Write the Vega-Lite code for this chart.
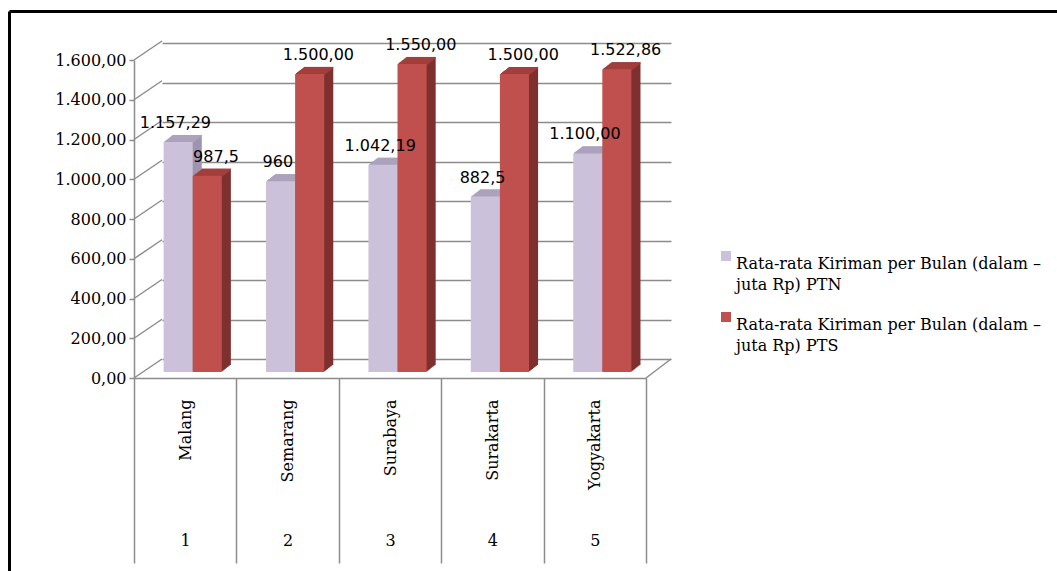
{
  "$schema": "https://vega.github.io/schema/vega-lite/v6.json",
  "width": 1048,
  "height": 560,
  "autosize": "none",
  "padding": {"left": 9, "top": 11, "right": 0, "bottom": 0},
  "background": "#ffffff",
  "config": {
    "view": {"stroke": null},
    "locale": {"number": {"decimal": ",", "thousands": ".", "grouping": [3], "currency": ["Rp", ""]}},
    "style": {"guide-label": {"lineHeight": 21}}
  },
  "data": {
    "values": [
      {"kota": "Malang", "no": 1, "seri": "Rata-rata Kiriman per Bulan (dalam – juta Rp) PTN", "nilai": 1157.29, "label": "1.157,29"},
      {"kota": "Malang", "no": 1, "seri": "Rata-rata Kiriman per Bulan (dalam – juta Rp) PTS", "nilai": 987.5, "label": "987,5"},
      {"kota": "Semarang", "no": 2, "seri": "Rata-rata Kiriman per Bulan (dalam – juta Rp) PTN", "nilai": 960, "label": "960"},
      {"kota": "Semarang", "no": 2, "seri": "Rata-rata Kiriman per Bulan (dalam – juta Rp) PTS", "nilai": 1500, "label": "1.500,00"},
      {"kota": "Surabaya", "no": 3, "seri": "Rata-rata Kiriman per Bulan (dalam – juta Rp) PTN", "nilai": 1042.19, "label": "1.042,19"},
      {"kota": "Surabaya", "no": 3, "seri": "Rata-rata Kiriman per Bulan (dalam – juta Rp) PTS", "nilai": 1550, "label": "1.550,00"},
      {"kota": "Surakarta", "no": 4, "seri": "Rata-rata Kiriman per Bulan (dalam – juta Rp) PTN", "nilai": 882.5, "label": "882,5"},
      {"kota": "Surakarta", "no": 4, "seri": "Rata-rata Kiriman per Bulan (dalam – juta Rp) PTS", "nilai": 1500, "label": "1.500,00"},
      {"kota": "Yogyakarta", "no": 5, "seri": "Rata-rata Kiriman per Bulan (dalam – juta Rp) PTN", "nilai": 1100, "label": "1.100,00"},
      {"kota": "Yogyakarta", "no": 5, "seri": "Rata-rata Kiriman per Bulan (dalam – juta Rp) PTS", "nilai": 1522.86, "label": "1.522,86"}
    ]
  },
  "resolve": {"scale": {"x": "independent", "y": "independent"}, "axis": {"x": "independent", "y": "independent"}},
  "layer": [
    {
      "description": "outer frame: top and left edges",
      "mark": {"type": "point", "opacity": 0},
      "encoding": {
        "x": {"datum": 0, "type": "quantitative", "scale": {"domain": [0, 1]},
              "axis": {"orient": "top", "domainColor": "#000000", "domainWidth": 3, "ticks": false, "labels": false, "grid": false, "title": null}},
        "y": {"datum": 0, "type": "quantitative", "scale": {"domain": [0, 1]},
              "axis": {"orient": "left", "domainColor": "#000000", "domainWidth": 3, "ticks": false, "labels": false, "grid": false, "title": null}}
      }
    },
    {
      "description": "back wall gridlines",
      "mark": {"type": "point", "opacity": 0},
      "encoding": {
        "x": {"field": "kota", "type": "nominal", "sort": null, "scale": {"range": [153, 662]}, "axis": null},
        "y": {"field": "nilai", "type": "quantitative", "scale": {"domain": [0, 1600], "range": [348, 32], "nice": false, "zero": true},
              "axis": {"orient": "left", "offset": -153, "values": [0, 200, 400, 600, 800, 1000, 1200, 1400, 1600],
                       "grid": true, "gridColor": "#8c8c8c", "gridWidth": 1.5, "domain": false, "ticks": false, "labels": false, "title": null}}
      }
    },
    {
      "description": "side wall edges joining the front ticks to the back gridlines",
      "data": {"values": [{"v": 0}, {"v": 200}, {"v": 400}, {"v": 600}, {"v": 800}, {"v": 1000}, {"v": 1200}, {"v": 1400}, {"v": 1600}]},
      "mark": {"type": "rule", "color": "#8c8c8c", "strokeWidth": 1.5, "y2Offset": -19},
      "encoding": {
        "x": {"datum": 0, "type": "quantitative", "scale": {"domain": [0, 1], "range": [125, 153]}, "axis": null},
        "x2": {"datum": 1},
        "y": {"field": "v", "type": "quantitative", "scale": {"domain": [0, 1600], "range": [367, 49], "nice": false}, "axis": null},
        "y2": {"field": "v"}
      }
    },
    {
      "description": "right edge of the floor",
      "data": {"values": [{"v": 0}]},
      "mark": {"type": "rule", "color": "#8c8c8c", "strokeWidth": 1.5, "y2Offset": -19},
      "encoding": {
        "x": {"datum": 0, "type": "quantitative", "scale": {"domain": [0, 1], "range": [637, 662]}, "axis": null},
        "x2": {"datum": 1},
        "y": {"field": "v", "type": "quantitative", "scale": {"domain": [0, 1600], "range": [367, 49], "nice": false}, "axis": null},
        "y2": {"field": "v"}
      }
    },
    {
      "description": "row numbers under the category table",
      "mark": {"type": "point", "opacity": 0},
      "encoding": {
        "x": {"field": "no", "type": "ordinal", "scale": {"range": [125, 637], "paddingInner": 0, "paddingOuter": 0},
              "axis": {"orient": "bottom", "offset": -193, "domain": false, "ticks": false, "grid": false, "title": null,
                       "labelAngle": 0, "labelAlign": "center", "labelBaseline": "middle", "labelPadding": 162,
                       "labelFont": "DejaVu Serif", "labelFontSize": 16, "labelColor": "#000000"}}
      }
    },
    {
      "encoding": {
        "x": {"field": "kota", "type": "nominal", "sort": null,
              "scale": {"range": [125, 637], "paddingInner": 0, "paddingOuter": 0},
              "axis": {"orient": "bottom", "offset": -193, "title": null, "grid": false,
                       "domainColor": "#8c8c8c", "domainWidth": 1.5,
                       "tickBand": "extent", "tickSize": 185, "tickColor": "#8c8c8c", "tickWidth": 1.5,
                       "labelAngle": -90, "labelAlign": "right", "labelBaseline": "middle", "labelPadding": -164,
                       "labelFont": "DejaVu Serif", "labelFontSize": 16, "labelColor": "#000000"}},
        "y": {"field": "nilai", "type": "quantitative",
              "scale": {"domain": [0, 1600], "range": [367, 49], "nice": false},
              "axis": {"orient": "left", "offset": -125, "title": null, "grid": false,
                       "values": [0, 200, 400, 600, 800, 1000, 1200, 1400, 1600], "format": ",.2f",
                       "domainColor": "#8c8c8c", "domainWidth": 1.5, "tickColor": "#8c8c8c", "tickWidth": 1.5, "tickSize": 5,
                       "labelPadding": 3, "labelFont": "DejaVu Serif", "labelFontSize": 16, "labelColor": "#000000"}}
      },
      "resolve": {"scale": {"fill": "independent", "xOffset": "independent"}},
      "layer": [
        {"mark": {"type": "bar", "yOffset": -6.8, "y2Offset": -6.8}, "encoding": {"xOffset": {"field": "seri", "type": "nominal", "scale": {"paddingInner": 0, "paddingOuter": 0.76, "align": 0.693}}, "fill": {"field": "seri", "type": "nominal", "scale": {"range": ["#9f94ae", "#7e302e"]}, "legend": null}}},
        {"mark": {"type": "bar", "yOffset": -7.6, "y2Offset": -7.6}, "encoding": {"xOffset": {"field": "seri", "type": "nominal", "scale": {"paddingInner": 0, "paddingOuter": 0.76, "align": 0.716}}, "fill": {"field": "seri", "type": "nominal", "scale": {"range": ["#9f94ae", "#7e302e"]}, "legend": null}}},
        {"mark": {"type": "bar", "yOffset": -8.3, "y2Offset": -8.3}, "encoding": {"xOffset": {"field": "seri", "type": "nominal", "scale": {"paddingInner": 0, "paddingOuter": 0.76, "align": 0.739}}, "fill": {"field": "seri", "type": "nominal", "scale": {"range": ["#9f94ae", "#7e302e"]}, "legend": null}}},
        {"mark": {"type": "bar", "yOffset": -9.1, "y2Offset": -9.1}, "encoding": {"xOffset": {"field": "seri", "type": "nominal", "scale": {"paddingInner": 0, "paddingOuter": 0.76, "align": 0.761}}, "fill": {"field": "seri", "type": "nominal", "scale": {"range": ["#9f94ae", "#7e302e"]}, "legend": null}}},
        {"mark": {"type": "bar", "yOffset": -9.9, "y2Offset": -9.9}, "encoding": {"xOffset": {"field": "seri", "type": "nominal", "scale": {"paddingInner": 0, "paddingOuter": 0.76, "align": 0.784}}, "fill": {"field": "seri", "type": "nominal", "scale": {"range": ["#9f94ae", "#7e302e"]}, "legend": null}}},
        {"mark": {"type": "bar", "yOffset": -10.7, "y2Offset": -10.7}, "encoding": {"xOffset": {"field": "seri", "type": "nominal", "scale": {"paddingInner": 0, "paddingOuter": 0.76, "align": 0.807}}, "fill": {"field": "seri", "type": "nominal", "scale": {"range": ["#9f94ae", "#7e302e"]}, "legend": null}}},
        {"mark": {"type": "bar", "yOffset": -11.5, "y2Offset": -11.5}, "encoding": {"xOffset": {"field": "seri", "type": "nominal", "scale": {"paddingInner": 0, "paddingOuter": 0.76, "align": 0.830}}, "fill": {"field": "seri", "type": "nominal", "scale": {"range": ["#9f94ae", "#7e302e"]}, "legend": null}}},
        {"mark": {"type": "bar", "yOffset": -12.2, "y2Offset": -12.2}, "encoding": {"xOffset": {"field": "seri", "type": "nominal", "scale": {"paddingInner": 0, "paddingOuter": 0.76, "align": 0.852}}, "fill": {"field": "seri", "type": "nominal", "scale": {"range": ["#9f94ae", "#7e302e"]}, "legend": null}}},
        {"mark": {"type": "bar", "yOffset": -13, "y2Offset": -13}, "encoding": {"xOffset": {"field": "seri", "type": "nominal", "scale": {"paddingInner": 0, "paddingOuter": 0.76, "align": 0.875}}, "fill": {"field": "seri", "type": "nominal", "scale": {"range": ["#9f94ae", "#7e302e"]}, "legend": null}}},
        {"mark": {"type": "bar", "yOffset": -6.8, "y2Offset": -5.2}, "encoding": {"y2": {"field": "nilai"}, "xOffset": {"field": "seri", "type": "nominal", "scale": {"paddingInner": 0, "paddingOuter": 0.76, "align": 0.693}}, "fill": {"field": "seri", "type": "nominal", "scale": {"range": ["#aca2bc", "#a23f3c"]}, "legend": null}}},
        {"mark": {"type": "bar", "yOffset": -7.6, "y2Offset": -6.0}, "encoding": {"y2": {"field": "nilai"}, "xOffset": {"field": "seri", "type": "nominal", "scale": {"paddingInner": 0, "paddingOuter": 0.76, "align": 0.716}}, "fill": {"field": "seri", "type": "nominal", "scale": {"range": ["#aca2bc", "#a23f3c"]}, "legend": null}}},
        {"mark": {"type": "bar", "yOffset": -8.3, "y2Offset": -6.7}, "encoding": {"y2": {"field": "nilai"}, "xOffset": {"field": "seri", "type": "nominal", "scale": {"paddingInner": 0, "paddingOuter": 0.76, "align": 0.739}}, "fill": {"field": "seri", "type": "nominal", "scale": {"range": ["#aca2bc", "#a23f3c"]}, "legend": null}}},
        {"mark": {"type": "bar", "yOffset": -9.1, "y2Offset": -7.5}, "encoding": {"y2": {"field": "nilai"}, "xOffset": {"field": "seri", "type": "nominal", "scale": {"paddingInner": 0, "paddingOuter": 0.76, "align": 0.761}}, "fill": {"field": "seri", "type": "nominal", "scale": {"range": ["#aca2bc", "#a23f3c"]}, "legend": null}}},
        {"mark": {"type": "bar", "yOffset": -9.9, "y2Offset": -8.3}, "encoding": {"y2": {"field": "nilai"}, "xOffset": {"field": "seri", "type": "nominal", "scale": {"paddingInner": 0, "paddingOuter": 0.76, "align": 0.784}}, "fill": {"field": "seri", "type": "nominal", "scale": {"range": ["#aca2bc", "#a23f3c"]}, "legend": null}}},
        {"mark": {"type": "bar", "yOffset": -10.7, "y2Offset": -9.1}, "encoding": {"y2": {"field": "nilai"}, "xOffset": {"field": "seri", "type": "nominal", "scale": {"paddingInner": 0, "paddingOuter": 0.76, "align": 0.807}}, "fill": {"field": "seri", "type": "nominal", "scale": {"range": ["#aca2bc", "#a23f3c"]}, "legend": null}}},
        {"mark": {"type": "bar", "yOffset": -11.5, "y2Offset": -9.9}, "encoding": {"y2": {"field": "nilai"}, "xOffset": {"field": "seri", "type": "nominal", "scale": {"paddingInner": 0, "paddingOuter": 0.76, "align": 0.830}}, "fill": {"field": "seri", "type": "nominal", "scale": {"range": ["#aca2bc", "#a23f3c"]}, "legend": null}}},
        {"mark": {"type": "bar", "yOffset": -12.2, "y2Offset": -10.6}, "encoding": {"y2": {"field": "nilai"}, "xOffset": {"field": "seri", "type": "nominal", "scale": {"paddingInner": 0, "paddingOuter": 0.76, "align": 0.852}}, "fill": {"field": "seri", "type": "nominal", "scale": {"range": ["#aca2bc", "#a23f3c"]}, "legend": null}}},
        {"mark": {"type": "bar", "yOffset": -13, "y2Offset": -11.4}, "encoding": {"y2": {"field": "nilai"}, "xOffset": {"field": "seri", "type": "nominal", "scale": {"paddingInner": 0, "paddingOuter": 0.76, "align": 0.875}}, "fill": {"field": "seri", "type": "nominal", "scale": {"range": ["#aca2bc", "#a23f3c"]}, "legend": null}}},
        {
          "mark": {"type": "bar", "yOffset": -6, "y2Offset": -6},
          "encoding": {
            "xOffset": {"field": "seri", "type": "nominal", "scale": {"paddingInner": 0, "paddingOuter": 0.76, "align": 0.67}},
            "color": {"field": "seri", "type": "nominal", "scale": {"range": ["#ccc1da", "#c0504d"]},
                      "legend": {"orient": "none", "legendX": 709, "legendY": 237, "title": null, "padding": 0,
                                 "symbolType": "square", "symbolSize": 100, "symbolStrokeWidth": 0, "symbolOpacity": 1,
                                 "labelFont": "DejaVu Serif", "labelFontSize": 16, "labelColor": "#000000", "labelLimit": 500,
                                 "labelBaseline": "top", "labelOffset": 2, "rowPadding": 16,
                                 "labelExpr": "[slice(datum.label, 0, indexof(datum.label, '–') + 1), slice(datum.label, indexof(datum.label, '–') + 2)]"}}
          }
        },
        {
          "mark": {"type": "text", "font": "DejaVu Sans", "fontSize": 16, "color": "#000000", "baseline": "alphabetic", "yOffset": -20},
          "encoding": {
            "xOffset": {"field": "seri", "type": "nominal", "scale": {"paddingInner": 0, "paddingOuter": 0.76, "align": 0.67}},
            "text": {"field": "label"}
          }
        }
      ]
    }
  ]
}
